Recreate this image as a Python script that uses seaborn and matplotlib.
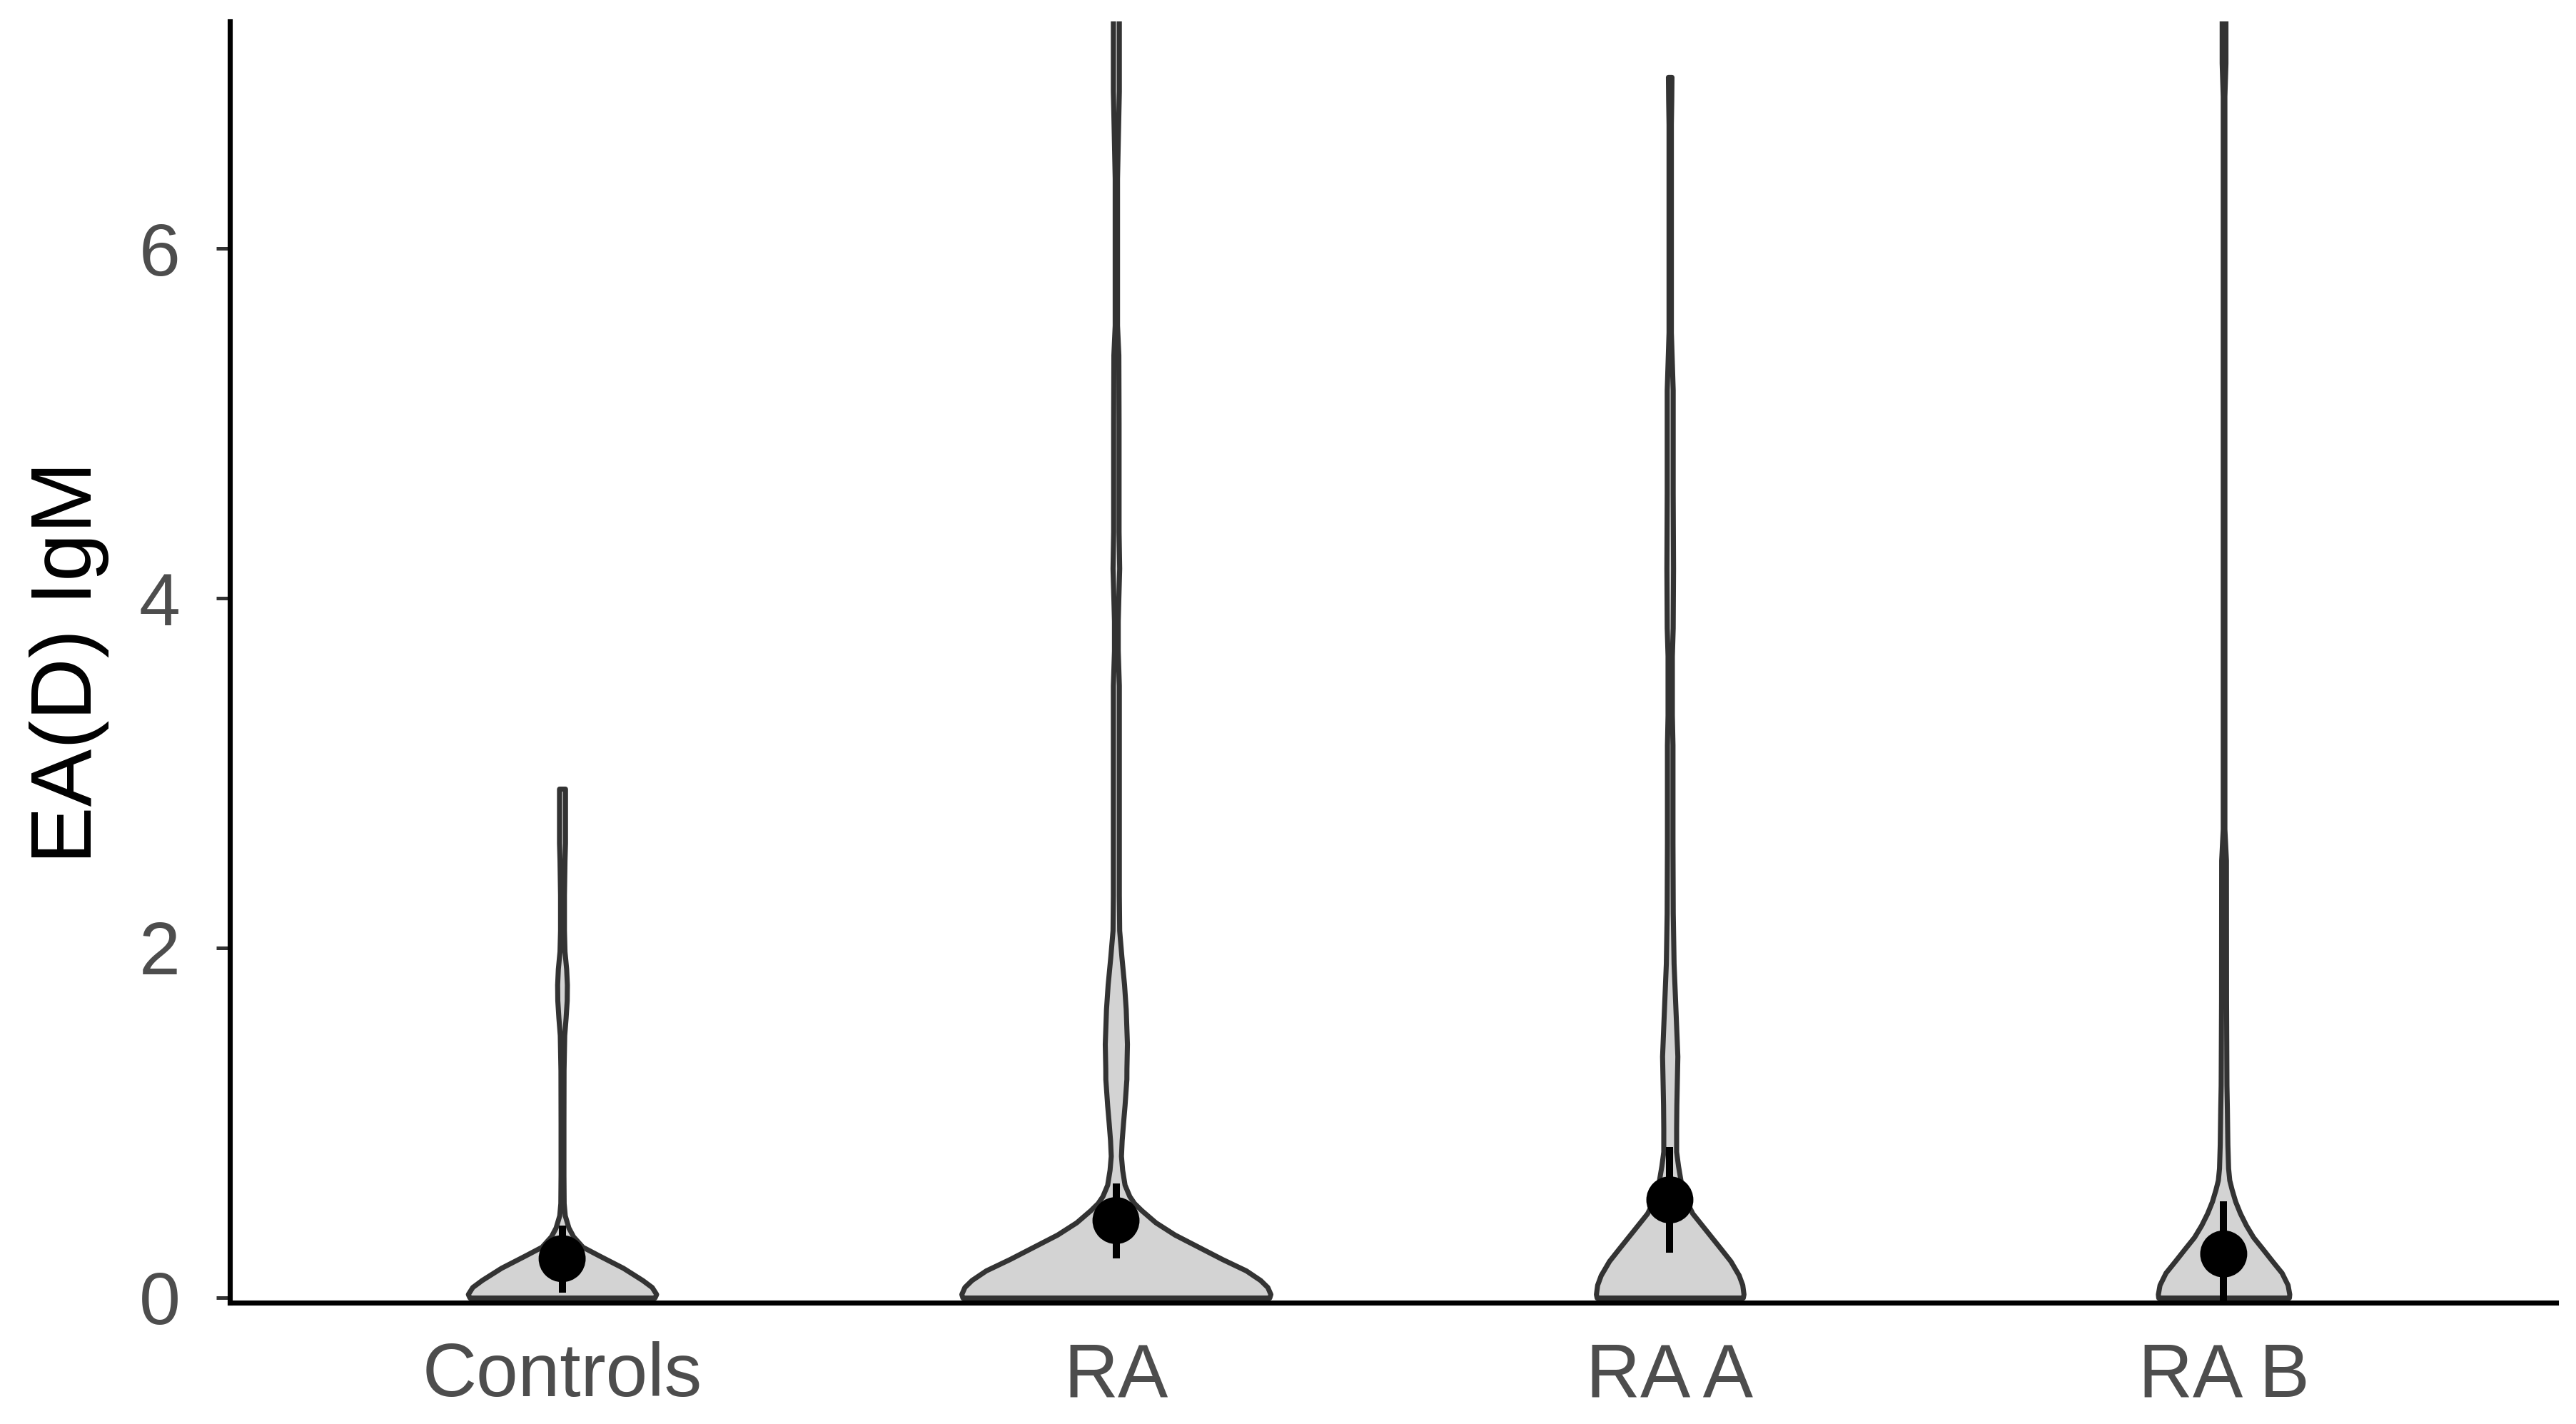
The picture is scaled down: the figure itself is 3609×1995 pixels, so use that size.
import numpy as np
import pandas as pd
import seaborn as sns
import matplotlib.pyplot as plt

groups = ["Controls", "RA", "RA A", "RA B"]

# mean and error bar ends per group
means = [0.223, 0.441, 0.559, 0.250]
err_low = [0.028, 0.223, 0.256, -0.05]
err_high = [0.413, 0.652, 0.860, 0.550]

# violin outlines: y value and half width (in category units)
controls_y = [0.0, 0.02, 0.06, 0.10, 0.17, 0.24, 0.29, 0.35, 0.40, 0.47, 0.54, 0.70, 1.0, 1.3,
              1.5, 1.6, 1.7, 1.79, 1.88, 1.98, 2.1, 2.3, 2.5, 2.6, 2.91]
controls_w = [0.167, 0.170, 0.162, 0.145, 0.110, 0.067, 0.037, 0.020, 0.0116, 0.005, 0.003, 0.0026,
              0.0026, 0.0028, 0.004, 0.0065, 0.0085, 0.0088, 0.0075, 0.0045, 0.0035, 0.0035, 0.0045,
              0.0054, 0.0054]

ra_y = [0.0, 0.02, 0.06, 0.10, 0.155, 0.22, 0.29, 0.36, 0.43, 0.50, 0.54, 0.58, 0.645, 0.73, 0.81,
        0.90, 1.0, 1.1, 1.25, 1.31, 1.45, 1.65, 1.79, 1.95, 2.1, 2.3, 2.6, 3.0, 3.5, 3.7, 3.87, 4.0,
        4.17, 4.38, 5.0, 5.39, 5.56, 6.0, 6.4, 6.6, 6.9, 7.1, 7.5]
ra_w = [0.277, 0.279, 0.2735, 0.2606, 0.2348, 0.1918, 0.1489, 0.106, 0.0715, 0.0458, 0.0329, 0.0243,
        0.0157, 0.0114, 0.0092, 0.0105, 0.013, 0.0157, 0.019, 0.0191, 0.020, 0.0178, 0.0148, 0.010,
        0.006, 0.0054, 0.0054, 0.0054, 0.0054, 0.0034, 0.0034, 0.0045, 0.006, 0.0049, 0.0049, 0.0045,
        0.0021, 0.0021, 0.0021, 0.0034, 0.0054, 0.0054, 0.0054]

raa_y = [0.0, 0.02, 0.073, 0.128, 0.209, 0.278, 0.346, 0.414, 0.482, 0.563, 0.673, 0.754, 0.835,
         0.97, 1.1, 1.24, 1.38, 1.6, 1.91, 2.2, 2.6, 3.16, 3.33, 3.5, 3.67, 3.83, 4.17, 4.6, 5.19,
         5.52, 6.0, 6.71, 6.85, 6.98]
raa_w = [0.132, 0.1332, 0.131, 0.1246, 0.1096, 0.0924, 0.0752, 0.058, 0.0408, 0.028, 0.0193, 0.015,
         0.0116, 0.0116, 0.012, 0.0129, 0.0138, 0.011, 0.007, 0.0055, 0.005, 0.005, 0.0039, 0.0039,
         0.0039, 0.0054, 0.006, 0.0054, 0.0054, 0.0021, 0.0021, 0.0021, 0.0028, 0.0032]

rab_y = [0.0, 0.02, 0.073, 0.142, 0.209, 0.278, 0.346, 0.414, 0.482, 0.55, 0.618, 0.672, 0.74,
         0.876, 1.08, 1.216, 1.7, 2.5, 2.68, 3.0, 5.0, 6.87, 7.06, 7.5]
rab_w = [0.118, 0.1186, 0.1156, 0.1048, 0.0877, 0.0705, 0.0533, 0.0404, 0.0297, 0.021, 0.0146,
         0.0103, 0.0082, 0.0069, 0.006, 0.0052, 0.0045, 0.0043, 0.0015, 0.0015, 0.0015, 0.0015,
         0.0034, 0.0034]

outlines = [(controls_y, controls_w), (ra_y, ra_w), (raa_y, raa_w), (rab_y, rab_w)]

sns.set_theme(style="white")
plt.rcParams["font.family"] = ["Liberation Sans", "DejaVu Sans"]

fig = plt.figure(figsize=(3609 / 300, 1995 / 300), dpi=300)
ax = fig.add_axes([322 / 3609, 170 / 1995, (3581 - 322) / 3609, (1825 - 30) / 1995])

for i, (vy, vw) in enumerate(outlines):
    vy = np.array(vy)
    vw = np.array(vw)
    ax.fill_betweenx(vy, i - vw, i + vw, facecolor="#D3D3D3", edgecolor="#333333",
                     linewidth=1.7, joinstyle="round", zorder=2)

pos = np.arange(len(groups))
ax.vlines(pos, err_low, err_high, color="black", linewidth=2.4, zorder=3)
pts = pd.DataFrame({"pos": pos, "mean": means})
sns.scatterplot(data=pts, x="pos", y="mean", color="black", s=250, edgecolor="none",
                zorder=4, ax=ax, legend=False)

ax.set_xlim(-0.6, 3.6)
ax.set_ylim(-0.0286, 7.298)
ax.set_xticks(pos)
ax.set_xticklabels(groups)
ax.set_yticks([0, 2, 4, 6])
ax.set_xlabel("")
ax.set_ylabel("EA(D) IgM", fontsize=29, color="black", labelpad=10)

for side in ["top", "right"]:
    ax.spines[side].set_visible(False)
for side in ["left", "bottom"]:
    ax.spines[side].set_color("black")
    ax.spines[side].set_linewidth(1.7)

ax.tick_params(axis="x", length=0, pad=13, labelsize=25.3, labelcolor="#4D4D4D")
ax.tick_params(axis="y", length=4.6, width=1.2, color="#333333", pad=12,
               labelsize=25, labelcolor="#4D4D4D", left=True)
ax.grid(False)

fig.savefig("out.png", dpi=300)
